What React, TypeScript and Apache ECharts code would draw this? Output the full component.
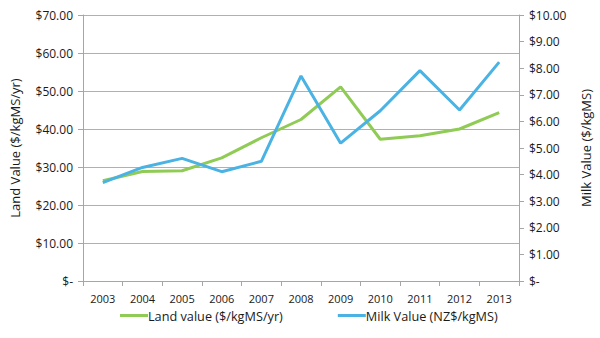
import React, { useEffect, useRef } from "react";
import * as echarts from "echarts";

const years = ["2003", "2004", "2005", "2006", "2007", "2008", "2009", "2010", "2011", "2012", "2013"];
const landValue = [26.4, 28.8, 29.0, 32.4, 37.7, 42.5, 51.1, 37.3, 38.2, 40.0, 44.3];
const milkValue = [3.7, 4.27, 4.61, 4.11, 4.5, 7.71, 5.18, 6.4, 7.91, 6.43, 8.23];

const FONT = "'Open Sans', sans-serif";
const GREEN = "#8FCB55";
const BLUE = "#4AB3E4";
const AXIS = "#A6A6A6";

export default function App() {
  const ref = useRef<HTMLDivElement>(null);
  useEffect(() => {
    const chart = echarts.init(ref.current!, null, { renderer: "svg" });
    chart.setOption({
      animation: false,
      backgroundColor: "#fff",
      textStyle: { fontFamily: FONT },
      grid: { left: 77, right: 77, top: 15, bottom: 57 },
      legend: {
        top: 309,
        left: 120,
        padding: 0,
        itemGap: 55,
        itemWidth: 28,
        itemHeight: 3,
        icon: "rect",
        textStyle: { fontSize: 12.7, color: "#1a1a1a", fontFamily: FONT, padding: [0, 0, 0, -5] },
        data: [
          { name: "Land value ($/kgMS/yr)", itemStyle: { color: GREEN } },
          { name: "Milk Value (NZ$/kgMS)", itemStyle: { color: BLUE } },
        ],
      },
      xAxis: {
        type: "category",
        data: years,
        boundaryGap: true,
        axisLine: { lineStyle: { color: AXIS } },
        axisTick: { show: true, alignWithLabel: false, length: 5, lineStyle: { color: AXIS } },
        axisLabel: { color: "#1a1a1a", fontSize: 11, margin: 12, fontFamily: FONT },
      },
      yAxis: [
        {
          type: "value",
          min: 0,
          max: 70,
          interval: 10,
          name: "Land Value ($/kgMS/yr)",
          nameLocation: "middle",
          nameGap: 62,
          nameTextStyle: { fontSize: 13, color: "#1a1a1a", fontFamily: FONT },
          axisLine: { show: true, lineStyle: { color: AXIS } },
          axisTick: { show: true, length: 5, lineStyle: { color: AXIS } },
          splitLine: { show: true, lineStyle: { color: "#B0B0B0", width: 1 } },
          axisLabel: {
            color: "#1a1a1a",
            fontSize: 12,
            margin: 10,
            fontFamily: FONT,
            formatter: (v: number) => (v === 0 ? "$-" : "$" + v.toFixed(2)),
          },
        },
        {
          type: "value",
          min: 0,
          max: 10,
          interval: 1,
          name: "Milk Value ($/kgMS)",
          nameLocation: "middle",
          nameGap: 60,
          nameRotate: 90,
          nameTextStyle: { fontSize: 13, color: "#1a1a1a", fontFamily: FONT },
          axisLine: { show: true, lineStyle: { color: AXIS } },
          axisTick: { show: true, length: 5, lineStyle: { color: AXIS } },
          splitLine: { show: false },
          axisLabel: {
            color: "#1a1a1a",
            fontSize: 12,
            margin: 10,
            fontFamily: FONT,
            formatter: (v: number) => (v === 0 ? "$-" : "$" + v.toFixed(2)),
          },
        },
      ],
      series: [
        {
          name: "Land value ($/kgMS/yr)",
          type: "line",
          yAxisIndex: 0,
          data: landValue,
          symbol: "none",
          lineStyle: { color: GREEN, width: 3 },
          itemStyle: { color: GREEN },
        },
        {
          name: "Milk Value (NZ$/kgMS)",
          type: "line",
          yAxisIndex: 1,
          data: milkValue,
          symbol: "none",
          lineStyle: { color: BLUE, width: 3 },
          itemStyle: { color: BLUE },
        },
      ],
    });
    return () => chart.dispose();
  }, []);
  return <div ref={ref} style={{ width: 600, height: 338, position: "absolute", left: 0, top: 0 }} />;
}
